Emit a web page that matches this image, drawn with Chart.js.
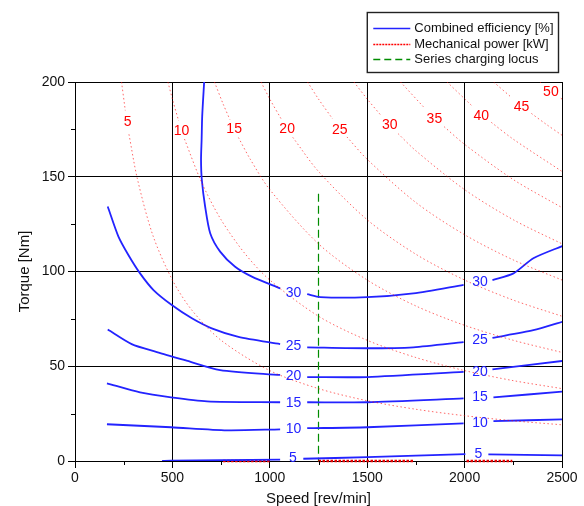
<!DOCTYPE html>
<html>
<head>
<meta charset="utf-8">
<script src="https://cdn.jsdelivr.net/npm/chart.js@4.4.0/dist/chart.umd.min.js"></script>
<style>
  html, body { margin: 0; padding: 0; background: #fff; }
</style>
</head>
<body>
<canvas id="mapChart" width="584" height="506"></canvas>
<script>
// axes
const speedRange = [0, 2500];
const torqueRange = [0, 200];
const speedMinor = [250, 750, 1250, 1750, 2250];
const torqueMinor = [25, 75, 125, 175];

// combined efficiency contours [speed, torque]; null = break where the label sits
const eff30 = [[663,200],[653,182],[650,169.5],[647,159],[651,148.4],[668,134.3],[694,120.2],[745,110.5],[822,102.5],[908,97.3],[1053,91.1], null,
  [1192,88],[1259,86.5],[1500,86.5],[1737,88.5],[1995,93], null, [2143,95.5],[2251,99],[2353,107],[2503,113.5]];
const eff25 = [[168,134.3],[223,118.4],[274,108.7],[334,99],[403,90.2],[497,82.3],[600,75.3],[702,70],[839,65.5],[1053,61.7], null,
  [1192,60],[1500,59.5],[1737,60],[1995,62.7], null, [2143,65],[2353,69],[2503,73.5]];
const eff20 = [[168,69.4],[291,61.7],[420,57.5],[565,53.2],[745,48],[1053,45.4], null,
  [1192,44.3],[1500,44.3],[1995,47], null, [2143,48.4],[2503,52.8]];
const eff15 = [[164,41],[334,36.2],[493,33.6],[678,31.5],[1053,31], null,
  [1192,31],[1500,31],[1995,33], null, [2148,33.6],[2503,36.6]];
const eff10 = [[164,19.4],[493,17.8],[780,16.2],[1053,16.7], null,
  [1192,17.3],[1500,17.8],[1995,19.9], null, [2148,21],[2503,22]];
const eff5 = [[447,0],[493,0.2],[750,0.4],[1053,0.7], null,
  [1172,1.2],[1500,2],[1750,2.8],[2004,3.6], null, [2122,3.5],[2503,3]];
const effLabels = [['30',1122,88.6],['25',1122,60.6],['20',1122,44.7],['15',1122,30.5],['10',1122,16.8],['5',1118,1.7],
  ['30',2079,94.2],['25',2079,63.8],['20',2079,46.9],['15',2079,33.5],['10',2079,20.2],['5',2071,3.5]];

// mechanical power lines [speed, torque]
const pow5 = [[239,200],[258,185], null, [277,172.4],[320,149],[400,119],[500,95.5],[600,79.6],[750,63.7],[1000,47.7],[1250,38.2],[1500,31.8],[1750,27.3],[2000,23.9],[2250,21.2],[2500,19.1]];
const pow10 = [[477,200],[500,191],[532,179.5], null, [562,169.9],[650,147],[750,127.3],[875,109.1],[1000,95.5],[1250,76.4],[1500,63.7],[1750,54.6],[2000,47.7],[2250,42.4],[2500,38.2]];
const pow15 = [[716,200],[760,188.5],[795,180.2], null, [839,170.7],[900,159.2],[1000,143.2],[1250,114.6],[1500,95.5],[1750,81.8],[2000,71.6],[2250,63.7],[2500,57.3]];
const pow20 = [[955,200],[1000,191],[1060,180.2], null, [1118,170.8],[1250,152.8],[1500,127.3],[1750,109.1],[2000,95.5],[2250,84.9],[2500,76.4]];
const pow25 = [[1194,200],[1250,191],[1322,180.6], null, [1396,171],[1500,159.2],[1750,136.4],[2000,119.4],[2250,106.1],[2500,95.5]];
const pow30 = [[1432,200],[1500,191],[1573,182.1], null, [1659,172.7],[1750,163.7],[2000,143.2],[2250,127.3],[2500,114.6]];
const pow35 = [[1671,200],[1795,186.2], null, [1895,176.4],[2000,167.1],[2250,148.5],[2500,133.7]];
const pow40 = [[1910,200],[2035,187.7], null, [2137,178.7],[2250,169.8],[2500,152.8]];
const pow45 = [[2149,200],[2241,191.8], null, [2343,183.4],[2420,177.6],[2500,171.9]];
const pow50 = [[2387,200],[2392,199.6], null, [2494,191.4],[2500,191]];
const powZero = [[760,0],[1000,0], null, [1250,0],[1740,0], null, [2010,0],[2245,0]];
const powLabels = [['5',270,179],['10',547,174.3],['15',817,175.3],['20',1089,175.3],['25',1359,174.5],
  ['30',1616,177],['35',1845,180.6],['40',2086,182.2],['45',2292,186.7],['50',2443,194.6]];

// series charging locus
const chargeLocus = [[1250,141],[1250,0]];

const blue = 'rgb(35,35,255)';
const red = 'rgb(255,0,0)';
const green = 'rgb(0,140,0)';
const fontFamily = '"Liberation Sans", Arial, Helvetica, sans-serif';

function toPoints(list) {
  return list.map((p, i) => p ? {x: p[0], y: p[1]} : {x: list[i - 1][0], y: null});
}

function effSet(list) {
  return {data: toPoints(list), borderColor: blue, borderWidth: 1.8, pointRadius: 0, tension: 0.25, spanGaps: false};
}
function powSet(list) {
  return {data: toPoints(list), borderColor: 'rgba(255,0,0,0.6)', borderWidth: 1, borderDash: [1.5, 2.5],
    pointRadius: 0, tension: 0.3, spanGaps: false};
}

const legendItems = [
  {text: 'Combined efficiency [%]', color: blue, dash: [], width: 1.5},
  {text: 'Mechanical power [kW]', color: red, dash: [2, 1], width: 1.3},
  {text: 'Series charging locus', color: green, dash: [7, 4], width: 1.5}
];

const mapExtras = {
  id: 'mapExtras',
  afterDatasetsDraw(chart) {
    const ctx = chart.ctx;
    const xs = chart.scales.x, ys = chart.scales.y;
    ctx.save();
    ctx.font = '14px ' + fontFamily;
    ctx.textAlign = 'center';
    ctx.textBaseline = 'middle';
    ctx.fillStyle = blue;
    effLabels.forEach(l => ctx.fillText(l[0], xs.getPixelForValue(l[1]), ys.getPixelForValue(l[2])));
    ctx.fillStyle = red;
    powLabels.forEach(l => ctx.fillText(l[0], xs.getPixelForValue(l[1]), ys.getPixelForValue(l[2])));
    ctx.restore();
  },
  afterDraw(chart) {
    const ctx = chart.ctx;
    const area = chart.chartArea;
    const xs = chart.scales.x, ys = chart.scales.y;
    ctx.save();
    // minor ticks
    ctx.strokeStyle = '#000';
    ctx.lineWidth = 1;
    ctx.beginPath();
    speedMinor.forEach(v => {
      const px = Math.round(xs.getPixelForValue(v)) + 0.5;
      ctx.moveTo(px, area.bottom);
      ctx.lineTo(px, area.bottom + 4);
    });
    torqueMinor.forEach(v => {
      const py = Math.round(ys.getPixelForValue(v)) + 0.5;
      ctx.moveTo(area.left - 4, py);
      ctx.lineTo(area.left, py);
    });
    ctx.stroke();

    // legend box
    ctx.font = '13px ' + fontFamily;
    const textW = Math.max(...legendItems.map(it => ctx.measureText(it.text).width));
    const boxW = 6 + 37 + 4 + textW + 5;
    const right = area.right - 3.5;
    const left = right - boxW;
    const top = 12.5;
    ctx.fillStyle = '#fff';
    ctx.fillRect(left, top, boxW, 60);
    ctx.strokeStyle = '#222';
    ctx.lineWidth = 1.4;
    ctx.strokeRect(left, top, boxW, 60);
    ctx.textAlign = 'left';
    ctx.textBaseline = 'middle';
    legendItems.forEach((it, i) => {
      const y = Math.round(top + 15.5 + i * 15.5) + 0.5;
      ctx.beginPath();
      ctx.setLineDash(it.dash);
      ctx.strokeStyle = it.color;
      ctx.lineWidth = it.width;
      ctx.moveTo(left + 6, y);
      ctx.lineTo(left + 43, y);
      ctx.stroke();
      ctx.setLineDash([]);
      ctx.fillStyle = '#111';
      ctx.fillText(it.text, left + 47, y);
    });
    ctx.restore();
  }
};

const datasets = [pow5, pow10, pow15, pow20, pow25, pow30, pow35, pow40, pow45, pow50].map(powSet);
[eff30, eff25, eff20, eff15, eff10, eff5].forEach(l => datasets.push(effSet(l)));
datasets.push({data: toPoints(powZero), borderColor: 'rgb(230,0,0)', borderWidth: 2.5, borderDash: [2.5, 1.5],
  pointRadius: 0, tension: 0, spanGaps: false, clip: 4});
datasets.push({data: toPoints(chargeLocus), borderColor: green, borderWidth: 1.2, borderDash: [8, 4],
  pointRadius: 0, tension: 0});

Chart.defaults.font.family = fontFamily;

new Chart(document.getElementById('mapChart').getContext('2d'), {
  type: 'line',
  data: {datasets: datasets},
  options: {
    responsive: false,
    animation: false,
    devicePixelRatio: 1,
    layout: {padding: {top: 82, right: 22, left: 0, bottom: 0}},
    plugins: {legend: {display: false}, tooltip: {enabled: false}},
    scales: {
      x: {
        type: 'linear', min: speedRange[0], max: speedRange[1],
        ticks: {stepSize: 500, font: {size: 14}, color: '#111', padding: 2, maxRotation: 0, callback: v => String(v)},
        grid: {color: '#000', lineWidth: 1, tickLength: 7, tickColor: '#000'},
        border: {color: '#000', width: 1},
        title: {display: true, text: 'Speed [rev/min]', color: '#111', font: {size: 15, lineHeight: 1}, padding: 0},
        afterFit: s => { s.height = 45; }
      },
      y: {
        type: 'linear', min: torqueRange[0], max: torqueRange[1],
        ticks: {stepSize: 50, font: {size: 14}, color: '#111', padding: 3, callback: v => String(v)},
        grid: {color: '#000', lineWidth: 1, tickLength: 7, tickColor: '#000'},
        border: {color: '#000', width: 1},
        title: {display: true, text: 'Torque [Nm]', color: '#111', font: {size: 15, lineHeight: 1}, padding: {top: 17.5, bottom: 0}},
        afterFit: s => { s.width = 75; }
      }
    }
  },
  plugins: [mapExtras]
});
</script>
</body>
</html>
